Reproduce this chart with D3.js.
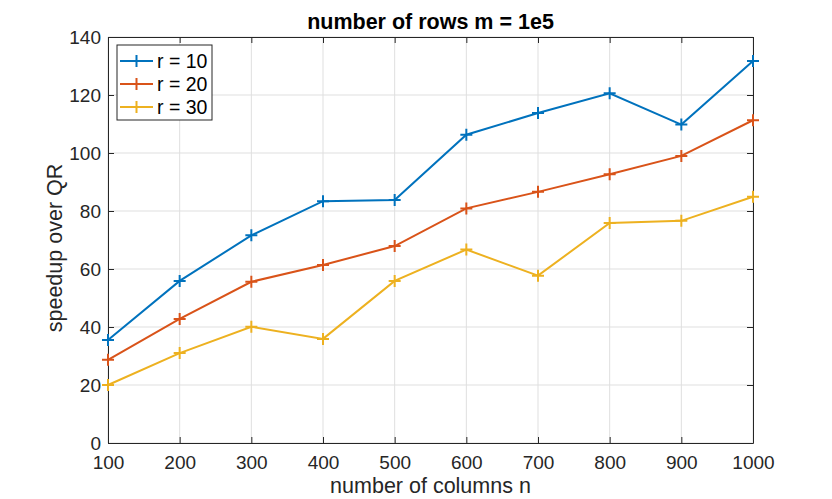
<!DOCTYPE html>
<html><head><meta charset="utf-8">
<script src="https://cdn.jsdelivr.net/npm/d3@7"></script>
<style>body{margin:0;background:#fff}svg{display:block}text{font-family:"Liberation Sans",Arial,Helvetica,sans-serif}</style>
</head><body>
<svg id="c" width="832" height="499"></svg>
<script>
const columns = [100,200,300,400,500,600,700,800,900,1000];
const r10 = [35.5,55.9,71.6,83.4,83.8,106.3,113.8,120.6,109.8,131.7];
const r20 = [28.7,42.8,55.6,61.4,67.9,80.9,86.6,92.7,99.0,111.3];
const r30 = [20.0,31.0,40.1,35.9,55.9,66.7,57.7,75.9,76.6,84.9];
const seriesNames = ["r = 10","r = 20","r = 30"];
const seriesColors = ["#0072BD","#D95319","#EDB120"];
const yTicks = [0,20,40,60,80,100,120,140];
const xTicks = columns;
const series = [r10,r20,r30];

const svg = d3.select("#c");
const L=108,R=753,T=37,B=443;
const x = d3.scaleLinear().domain([100,1000]).range([L,R]);
const y = d3.scaleLinear().domain([0,140]).range([B,T]);
const axisColor="#262626";

// grid
const g = svg.append("g");
g.selectAll(".gx").data(xTicks).enter().append("line")
 .attr("x1",d=>x(d)).attr("x2",d=>x(d)).attr("y1",T).attr("y2",B)
 .attr("stroke","#dfdfdf").attr("stroke-width",1);
g.selectAll(".gy").data(yTicks).enter().append("line")
 .attr("y1",d=>y(d)).attr("y2",d=>y(d)).attr("x1",L).attr("x2",R)
 .attr("stroke","#dfdfdf").attr("stroke-width",1);

// axes with inward ticks
const tl=6;
const fmt = d3.format("d");
const axB = d3.axisBottom(x).tickValues(xTicks).tickFormat(fmt).tickSizeInner(-tl).tickSizeOuter(0).tickPadding(13);
const axL = d3.axisLeft(y).tickValues(yTicks).tickFormat(fmt).tickSizeInner(-tl).tickSizeOuter(0).tickPadding(7);
const axT = d3.axisTop(x).tickValues(xTicks).tickSizeInner(-tl).tickSizeOuter(0).tickFormat("");
const axR = d3.axisRight(y).tickValues(yTicks).tickSizeInner(-tl).tickSizeOuter(0).tickFormat("");
function style(sel){
  sel.selectAll("path").attr("stroke",axisColor).attr("stroke-width",1);
  sel.selectAll("line").attr("stroke",axisColor).attr("stroke-width",1);
  sel.selectAll("text").attr("fill",axisColor).style("font-size","19px");
}
style(svg.append("g").attr("transform",`translate(0,${B})`).call(axB));
style(svg.append("g").attr("transform",`translate(${L},0)`).call(axL));
style(svg.append("g").attr("transform",`translate(0,${T})`).call(axT));
style(svg.append("g").attr("transform",`translate(${R},0)`).call(axR));

// lines
const line = d3.line().x((d,i)=>x(columns[i])).y(d=>y(d));
const ms=6;
series.forEach((s,k)=>{
  svg.append("path").datum(s).attr("d",line).attr("fill","none")
    .attr("stroke",seriesColors[k]).attr("stroke-width",2);
  svg.append("g").selectAll("path").data(s).enter().append("path")
    .attr("d",(d,i)=>`M${x(columns[i])-ms},${y(d)}H${x(columns[i])+ms}M${x(columns[i])},${y(d)-ms}V${y(d)+ms}`)
    .attr("stroke",seriesColors[k]).attr("stroke-width",2).attr("fill","none");
});

// title & labels
svg.append("text").attr("x",(L+R)/2).attr("y",29).attr("text-anchor","middle")
 .style("font-size","21.5px").style("font-weight","bold").attr("fill","#000").text("number of rows m = 1e5");
svg.append("text").attr("x",(L+R)/2).attr("y",493).attr("text-anchor","middle")
 .style("font-size","21.5px").attr("fill",axisColor).text("number of columns n");
svg.append("text").attr("transform",`translate(62,${(T+B)/2+8}) rotate(-90)`).attr("text-anchor","middle")
 .style("font-size","21.5px").attr("fill",axisColor).text("speedup over QR");

// legend
const lg = svg.append("g");
lg.append("rect").attr("x",117).attr("y",45).attr("width",95).attr("height",75)
 .attr("fill","#fff").attr("stroke",axisColor).attr("stroke-width",1);
seriesNames.forEach((n,k)=>{
  const yy=61+k*23;
  lg.append("line").attr("x1",120).attr("x2",153).attr("y1",yy).attr("y2",yy).attr("stroke",seriesColors[k]).attr("stroke-width",2);
  lg.append("path").attr("d",`M${136.5-ms},${yy}H${136.5+ms}M136.5,${yy-ms}V${yy+ms}`).attr("stroke",seriesColors[k]).attr("stroke-width",2);
  lg.append("text").attr("x",157).attr("y",yy+7).style("font-size","19.5px").attr("fill","#000").text(n);
});
</script>
</body></html>
